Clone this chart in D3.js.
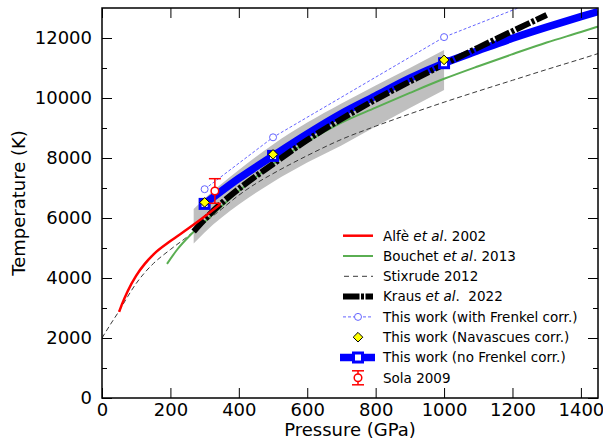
<!DOCTYPE html>
<html>
<head>
<meta charset="utf-8">
<script src="https://cdn.jsdelivr.net/npm/d3@7"></script>
<style>
  body { margin: 0; background: #fff; }
  svg { display: block; font-family: "DejaVu Sans", sans-serif; }
</style>
</head>
<body>
<svg id="chart" width="603" height="441"></svg>
<script>
// ---- Melting curves (pressure in GPa, temperature in K) ----
const alfeP = [50, 60, 75, 100, 125, 150, 200, 250, 300, 345];
const alfeT = [2870, 3170, 3560, 4080, 4470, 4780, 5230, 5630, 6050, 6450];

const bouchetP = [190, 220, 260, 300, 400, 500, 600, 700, 800, 900, 1000, 1100, 1200, 1300, 1400, 1450];
const bouchetT = [4470, 4950, 5450, 5870, 6900, 7800, 8540, 9180, 9680, 10170, 10640, 11060, 11460, 11850, 12200, 12380];

const stixrudeP = [0, 25, 50, 75, 100, 125, 150, 200, 250, 300, 350, 400, 450, 500, 600, 700, 800, 900, 1000, 1100, 1200, 1300, 1400, 1450];
const stixrudeT = [2000, 2460, 2900, 3380, 3820, 4180, 4480, 4950, 5380, 5850, 6300, 6760, 7150, 7480, 8080, 8620, 9060, 9470, 9860, 10230, 10590, 10950, 11300, 11480];

const krausP = [268, 300, 350, 400, 500, 600, 700, 800, 900, 1000, 1100, 1200, 1300];
const krausT = [5550, 5950, 6500, 6970, 7800, 8600, 9300, 9950, 10550, 11120, 11680, 12230, 12770];

// This work: fitted curve without Frenkel correction, and its uncertainty band
const fitP = [300, 400, 500, 600, 700, 800, 900, 1000, 1100, 1200, 1300, 1400, 1450];
const fitT = [6470, 7320, 8070, 8800, 9480, 10070, 10660, 11160, 11580, 11990, 12360, 12710, 12880];

const bandP  = [268, 300, 400, 500, 600, 700, 800, 900, 1000];
const bandHi = [6300, 6650, 7600, 8450, 9180, 9820, 10420, 11000, 11600];
const bandLo = [5150, 5520, 6450, 7200, 7850, 8420, 9050, 9670, 10270];

// This work: simulated points
const workP = [300, 500, 1000];
const noFrenkelT = [6470, 8070, 11160];
const navascuesT = [6520, 8120, 11270];
const frenkelT = [6960, 8690, 12030];
const frenkelLineP = [300, 500, 1000, 1250];
const frenkelLineT = [6960, 8690, 12030, 13150];

// Sola 2009
const solaP = [330];
const solaT = [6900];
const solaErr = [410];

// Axes
const xTicks = [0, 200, 400, 600, 800, 1000, 1200, 1400];
const yTicks = [0, 2000, 4000, 6000, 8000, 10000, 12000];
const yMinorTicks = [1000, 3000, 5000, 7000, 9000, 11000];

const legendLabels = [
  "Alfè et al. 2002",
  "Bouchet et al. 2013",
  "Stixrude 2012",
  "Kraus et al.  2022",
  "This work (with Frenkel corr.)",
  "This work (Navascues corr.)",
  "This work (no Frenkel corr.)",
  "Sola 2009"
];

// ---- Layout ----
const svg = d3.select("#chart");
const x = d3.scaleLinear().domain([0, 1450]).range([102, 598]);
const y = d3.scaleLinear().domain([0, 13000]).range([398, 8]);

const zip = (P, T) => P.map((p, i) => [p, T[i]]);
const line = d3.line().x(d => x(d[0])).y(d => y(d[1])).curve(d3.curveMonotoneX);
const straight = d3.line().x(d => x(d[0])).y(d => y(d[1]));

const COL = {
  red: "#ff0000", green: "#5aae52", grey: "#3a3a3a", black: "#000000",
  blue: "#0000ff", frenkel: "#6464ff", band: "#bfbfbf", yellow: "#ffff00"
};

svg.append("defs").append("clipPath").attr("id", "plotClip")
  .append("rect").attr("x", 102).attr("y", 8).attr("width", 496).attr("height", 390);

const plot = svg.append("g").attr("clip-path", "url(#plotClip)");

// uncertainty band
plot.append("path")
  .datum(bandP.map((p, i) => [p, bandLo[i], bandHi[i]]))
  .attr("fill", COL.band)
  .attr("d", d3.area().x(d => x(d[0])).y0(d => y(d[1])).y1(d => y(d[2])).curve(d3.curveMonotoneX));

// Stixrude 2012
plot.append("path").datum(zip(stixrudeP, stixrudeT))
  .attr("fill", "none").attr("stroke", COL.grey).attr("stroke-width", 1)
  .attr("stroke-dasharray", "5,3").attr("d", line);

// Bouchet 2013
plot.append("path").datum(zip(bouchetP, bouchetT))
  .attr("fill", "none").attr("stroke", COL.green).attr("stroke-width", 2).attr("d", line);

// This work fit (no Frenkel corr.)
plot.append("path").datum(zip(fitP, fitT))
  .attr("fill", "none").attr("stroke", COL.blue).attr("stroke-width", 7.5).attr("d", line);

// Kraus 2022
plot.append("path").datum(zip(krausP, krausT))
  .attr("fill", "none").attr("stroke", COL.black).attr("stroke-width", 6)
  .attr("stroke-dasharray", "15.5,2,3,2").attr("d", line);

// Alfè 2002
plot.append("path").datum(zip(alfeP, alfeT))
  .attr("fill", "none").attr("stroke", COL.red).attr("stroke-width", 2.5).attr("d", line);

// With Frenkel correction
plot.append("path").datum(zip(frenkelLineP, frenkelLineT))
  .attr("fill", "none").attr("stroke", COL.frenkel).attr("stroke-width", 1)
  .attr("stroke-dasharray", "3,2").attr("d", straight);
plot.selectAll("circle.frenkel").data(zip(workP, frenkelT)).join("circle")
  .attr("class", "frenkel")
  .attr("cx", d => x(d[0])).attr("cy", d => y(d[1])).attr("r", 3.5)
  .attr("fill", "#fff").attr("stroke", COL.frenkel).attr("stroke-width", 1);

// No Frenkel squares
plot.selectAll("rect.nofrenkel").data(zip(workP, noFrenkelT)).join("rect")
  .attr("class", "nofrenkel")
  .attr("x", d => x(d[0]) - 4.5).attr("y", d => y(d[1]) - 4.5)
  .attr("width", 9).attr("height", 9)
  .attr("fill", "#fff").attr("stroke", COL.blue).attr("stroke-width", 3);

// Navascues diamonds
const diamond = (cx, cy, r) => `M${cx},${cy - r}L${cx + r},${cy}L${cx},${cy + r}L${cx - r},${cy}Z`;
plot.selectAll("path.nav").data(zip(workP, navascuesT)).join("path")
  .attr("class", "nav")
  .attr("d", d => diamond(x(d[0]), y(d[1]), 4.8))
  .attr("fill", COL.yellow).attr("stroke", "#000").attr("stroke-width", 1);

// Sola 2009 with error bar
const sola = plot.selectAll("g.sola").data(solaP.map((p, i) => ({ p, t: solaT[i], e: solaErr[i] }))).join("g");
sola.append("line").attr("x1", d => x(d.p)).attr("x2", d => x(d.p))
  .attr("y1", d => y(d.t - d.e)).attr("y2", d => y(d.t + d.e))
  .attr("stroke", COL.red).attr("stroke-width", 1.5);
[-1, 1].forEach(s => {
  sola.append("line").attr("x1", d => x(d.p) - 6).attr("x2", d => x(d.p) + 6)
    .attr("y1", d => y(d.t + s * d.e)).attr("y2", d => y(d.t + s * d.e))
    .attr("stroke", COL.red).attr("stroke-width", 1.5);
});
sola.append("circle").attr("cx", d => x(d.p)).attr("cy", d => y(d.t)).attr("r", 3.8)
  .attr("fill", "#fff").attr("stroke", COL.red).attr("stroke-width", 1.5);

// ---- Axes (ticks point inward on all four sides) ----
function styleAxis(g, fontSize) {
  g.select(".domain").remove();
  g.selectAll("text").attr("font-size", fontSize).attr("font-family", "DejaVu Sans, sans-serif").attr("fill", "#000");
  g.selectAll("line").attr("stroke", "#000").attr("stroke-width", 1);
}
svg.append("g").attr("transform", "translate(0,398)")
  .call(d3.axisBottom(x).tickValues(xTicks).tickSize(-10).tickSizeOuter(0).tickPadding(5).tickFormat(d3.format("d")))
  .call(g => styleAxis(g, 18));
svg.append("g").attr("transform", "translate(0,8)")
  .call(d3.axisTop(x).tickValues(xTicks).tickSize(-10).tickSizeOuter(0).tickFormat(""))
  .call(g => styleAxis(g, 0));
svg.append("g").attr("transform", "translate(102,0)")
  .call(d3.axisLeft(y).tickValues(yTicks).tickSize(-10).tickSizeOuter(0).tickPadding(10).tickFormat(d3.format("d")))
  .call(g => styleAxis(g, 18));
svg.append("g").attr("transform", "translate(102,0)")
  .call(d3.axisLeft(y).tickValues(yMinorTicks).tickSize(-5).tickSizeOuter(0).tickFormat(""))
  .call(g => styleAxis(g, 0));
svg.append("g").attr("transform", "translate(598,0)")
  .call(d3.axisRight(y).tickValues(yTicks).tickSize(-10).tickSizeOuter(0).tickFormat(""))
  .call(g => styleAxis(g, 0));
svg.append("g").attr("transform", "translate(598,0)")
  .call(d3.axisRight(y).tickValues(yMinorTicks).tickSize(-5).tickSizeOuter(0).tickFormat(""))
  .call(g => styleAxis(g, 0));

svg.append("rect").attr("x", 102).attr("y", 8).attr("width", 496).attr("height", 390)
  .attr("fill", "none").attr("stroke", "#000").attr("stroke-width", 1.5);

svg.append("text").attr("x", 350).attr("y", 436).attr("text-anchor", "middle")
  .attr("font-size", 18).text("Pressure (GPa)");
svg.append("text").attr("transform", "translate(25,203) rotate(-90)").attr("text-anchor", "middle")
  .attr("font-size", 18).text("Temperature (K)");

// ---- Legend ----
const lg = svg.append("g");
const gx0 = 343, gx1 = 373, gxm = 358, tx = 383, ly0 = 235.7, ldy = 20.3;
legendLabels.forEach((label, i) => {
  const cy = ly0 + i * ldy;
  const row = lg.append("g");
  const seg = (attrs) => {
    const l = row.append("line").attr("x1", gx0).attr("x2", gx1).attr("y1", cy).attr("y2", cy).attr("fill", "none");
    Object.entries(attrs).forEach(([k, v]) => l.attr(k, v));
  };
  if (i === 0) seg({ stroke: COL.red, "stroke-width": 2.5 });
  if (i === 1) seg({ stroke: COL.green, "stroke-width": 2 });
  if (i === 2) seg({ stroke: COL.grey, "stroke-width": 1, "stroke-dasharray": "5,4", x1: gx0 + 1 });
  if (i === 3) seg({ stroke: COL.black, "stroke-width": 6, "stroke-dasharray": "16.5,1.5,3,1.5" });
  if (i === 4) {
    seg({ stroke: COL.frenkel, "stroke-width": 1, "stroke-dasharray": "3,2" });
    row.append("circle").attr("cx", gxm).attr("cy", cy).attr("r", 3.5).attr("fill", "#fff")
      .attr("stroke", COL.frenkel).attr("stroke-width", 1);
  }
  if (i === 5) {
    row.append("path").attr("d", diamond(gxm, cy, 4.8)).attr("fill", COL.yellow)
      .attr("stroke", "#000").attr("stroke-width", 1);
  }
  if (i === 6) {
    seg({ stroke: COL.blue, "stroke-width": 7.5, x1: gx0 - 3, x2: gx1 + 2 });
    row.append("rect").attr("x", gxm - 4.5).attr("y", cy - 4.5).attr("width", 9).attr("height", 9)
      .attr("fill", "#fff").attr("stroke", COL.blue).attr("stroke-width", 3);
  }
  if (i === 7) {
    row.append("line").attr("x1", gxm).attr("x2", gxm).attr("y1", cy - 7).attr("y2", cy + 7)
      .attr("stroke", COL.red).attr("stroke-width", 1.5);
    [-7, 7].forEach(o => row.append("line").attr("x1", gxm - 6).attr("x2", gxm + 6)
      .attr("y1", cy + o).attr("y2", cy + o).attr("stroke", COL.red).attr("stroke-width", 1.5));
    row.append("circle").attr("cx", gxm).attr("cy", cy).attr("r", 3.8).attr("fill", "#fff")
      .attr("stroke", COL.red).attr("stroke-width", 1.5);
  }
  const t = row.append("text").attr("x", tx).attr("y", cy).attr("dy", "0.36em")
    .attr("font-size", 13.5).attr("xml:space", "preserve").style("white-space", "pre");
  label.split(/(et al)/).forEach(part => {
    if (!part) return;
    t.append("tspan").attr("font-style", part === "et al" ? "italic" : "normal").text(part);
  });
});
</script>
</body>
</html>
